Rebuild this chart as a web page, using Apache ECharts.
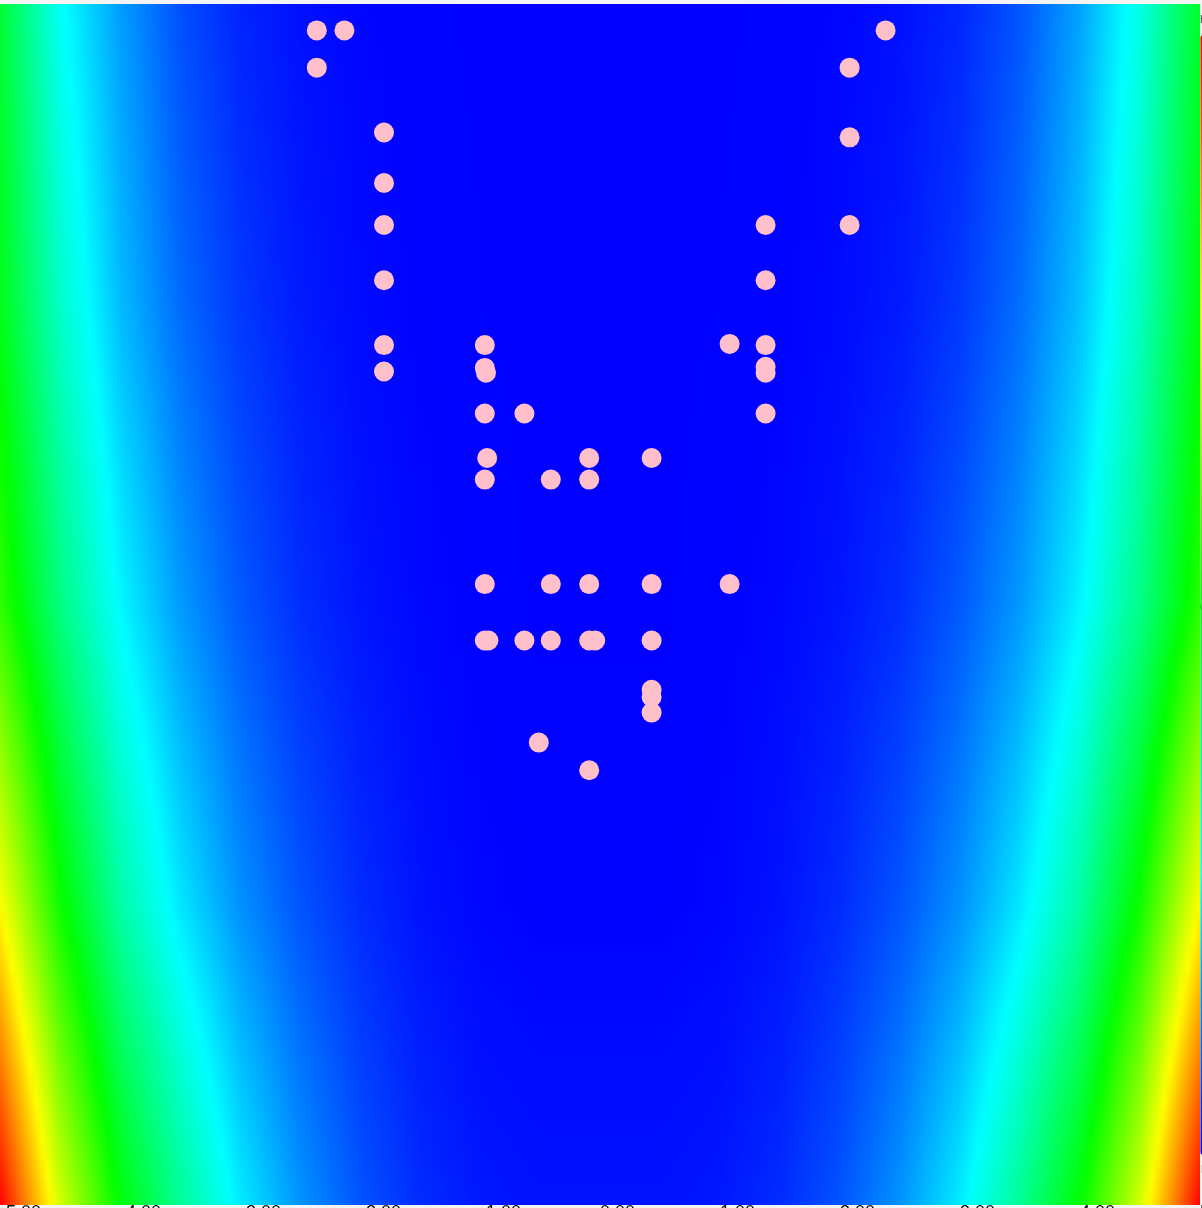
<!DOCTYPE html>
<html>
<head>
<meta charset="utf-8">
<style>
html,body{margin:0;padding:0;background:#f4f4f4;overflow:hidden}
#chart{width:1202px;height:1208px}
</style>
<script src="https://cdn.jsdelivr.net/npm/echarts@6/dist/echarts.min.js"></script>
</head>
<body>
<div id="chart"></div>
<script>
// x positions where the background field was read (data units)
const xSamples = [-5,-4.5,-4,-3.5,-3,-2.5,-2,-1.5,-1,-0.5,0,0.5,1,1.5,2,2.5,3,3.5,4,4.5,5];
// y positions of the read rows (top to bottom)
const ySamples = [5, 2.5, 0, -2.5, -5];
// field values (0 = blue ... 4 = red)
const fieldTop    = [1.80,1.03,0.62,0.31,0.14,0.06,0.02,0.005,0,0,0,0,0,0.005,0.02,0.06,0.15,0.33,0.64,1.10,1.85];
const fieldUpper  = [1.91,1.22,0.74,0.42,0.22,0.10,0.04,0.011,0.002,0,0,0,0.002,0.011,0.04,0.10,0.22,0.43,0.76,1.25,1.95];
const fieldMiddle = [2.19,1.50,0.98,0.61,0.35,0.18,0.08,0.03,0.007,0,0,0,0.007,0.03,0.08,0.18,0.35,0.60,0.96,1.47,2.15];
const fieldLower  = [3.00,2.05,1.36,0.91,0.57,0.33,0.17,0.07,0.025,0.01,0.01,0.01,0.025,0.07,0.17,0.33,0.57,0.91,1.36,2.05,3.00];
const fieldBottom = [4.00,2.83,1.98,1.42,0.93,0.58,0.33,0.17,0.09,0.07,0.07,0.07,0.09,0.17,0.33,0.58,0.93,1.42,2.00,2.83,4.00];
const fieldRows = [fieldTop, fieldUpper, fieldMiddle, fieldLower, fieldBottom];

// scatter points
const pointX = [-2.36,-2.13,2.38,-2.36,2.08,-1.80,2.08,-1.80,-1.80,1.38,2.08,-1.80,1.38,-1.80,-0.96,1.08,1.38,-1.80,-0.96,-0.95,1.38,1.38,-0.96,-0.63,1.38,-0.94,-0.09,0.43,-0.96,-0.41,-0.09,-0.96,-0.41,-0.09,0.43,1.08,-0.96,-0.93,-0.63,-0.41,-0.09,-0.04,0.43,0.43,0.43,0.43,-0.51,-0.09];
const pointY = [4.78,4.78,4.78,4.47,4.47,3.93,3.89,3.51,3.16,3.16,3.16,2.70,2.70,2.16,2.16,2.17,2.16,1.94,1.97,1.93,1.98,1.93,1.59,1.59,1.59,1.22,1.22,1.22,1.04,1.04,1.04,0.17,0.17,0.17,0.17,0.17,-0.30,-0.30,-0.30,-0.30,-0.30,-0.30,-0.30,-0.71,-0.77,-0.90,-1.15,-1.38];

const xMin = -5, xMax = 5, yMin = -5, yMax = 5, tickStep = 1;
const rampColors = [[0,0,255],[0,255,255],[0,255,0],[255,255,0],[255,0,0]];
const valueMin = 0, valueMax = 4;

function rampColor(v) {
  let n = (v - valueMin) / (valueMax - valueMin) * (rampColors.length - 1);
  n = Math.max(0, Math.min(rampColors.length - 1, n));
  let k = Math.min(Math.floor(n), rampColors.length - 2);
  const t = n - k;
  const a = rampColors[k], b = rampColors[k + 1];
  const c = a.map((ch, idx) => Math.round(ch + (b[idx] - ch) * t));
  return 'rgb(' + c.join(',') + ')';
}

function renderBand(params, api) {
  const i = api.value(0);
  const rowA = fieldRows[i], rowB = fieldRows[i + 1];
  const pA = api.coord([xSamples[0], ySamples[i]]);
  const pB = api.coord([xSamples[xSamples.length - 1], ySamples[i + 1]]);
  const strips = 60, fine = 200;
  const h = (pB[1] - pA[1]) / strips;
  const children = [];
  for (let s = 0; s < strips; s++) {
    const f = (s + 0.5) / strips;
    const stops = [];
    for (let j = 0; j <= fine; j++) {
      const u = j / fine * (xSamples.length - 1);
      const k = Math.min(Math.floor(u), xSamples.length - 2);
      const t = u - k;
      const a = rowA[k] + (rowA[k + 1] - rowA[k]) * t;
      const b = rowB[k] + (rowB[k + 1] - rowB[k]) * t;
      stops.push({ offset: j / fine, color: rampColor(a + (b - a) * f) });
    }
    const y0 = Math.round(pA[1] + s * h);
    const y1 = Math.round(pA[1] + (s + 1) * h);
    const x0 = Math.round(pA[0]), x1 = Math.round(pB[0]);
    children.push({
      type: 'rect',
      silent: true,
      shape: { x: x0, y: y0, width: x1 - x0, height: y1 - y0 },
      style: { fill: new echarts.graphic.LinearGradient(0, 0, 1, 0, stops) }
    });
  }
  return { type: 'group', children: children };
}

const bandData = ySamples.slice(0, -1).map((y, i) => [i, i]);
const scatterData = pointX.map((x, i) => [x, pointY[i]]);

const chart = echarts.init(document.getElementById('chart'), null, { renderer: 'canvas' });
chart.setOption({
  animation: false,
  backgroundColor: 'transparent',
  grid: { left: 0, top: 4, width: 1200, height: 1201, containLabel: false, outerBoundsMode: 'none' },
  xAxis: {
    type: 'value', min: xMin, max: xMax, interval: tickStep,
    axisLine: { show: false },
    axisTick: { show: true, length: 5, lineStyle: { color: '#333' } },
    splitLine: { show: false },
    axisLabel: { align: 'left', margin: -1, fontSize: 18, color: '#111',
      formatter: v => v.toFixed(2) }
  },
  yAxis: {
    type: 'value', min: yMin, max: yMax, interval: tickStep,
    axisLine: { show: false }, axisTick: { show: false },
    axisLabel: { show: false }, splitLine: { show: false }
  },
  visualMap: {
    type: 'continuous', min: valueMin, max: valueMax, seriesIndex: 0, dimension: 0,
    orient: 'vertical', left: 1185, top: 0, itemWidth: 20, itemHeight: 1120,
    text: ['High', 'Low'], textStyle: { fontSize: 10, color: '#333' },
    inRange: { color: ['#0000ff', '#00ffff', '#00ff00', '#ffff00', '#ff0000'] }
  },
  series: [
    { type: 'custom', renderItem: renderBand, data: bandData, z: 1, silent: true, clip: true },
    { type: 'scatter', data: scatterData, symbolSize: 20, z: 3,
      itemStyle: { color: '#ffc0cb', opacity: 1 } }
  ]
});
</script>
</body>
</html>
